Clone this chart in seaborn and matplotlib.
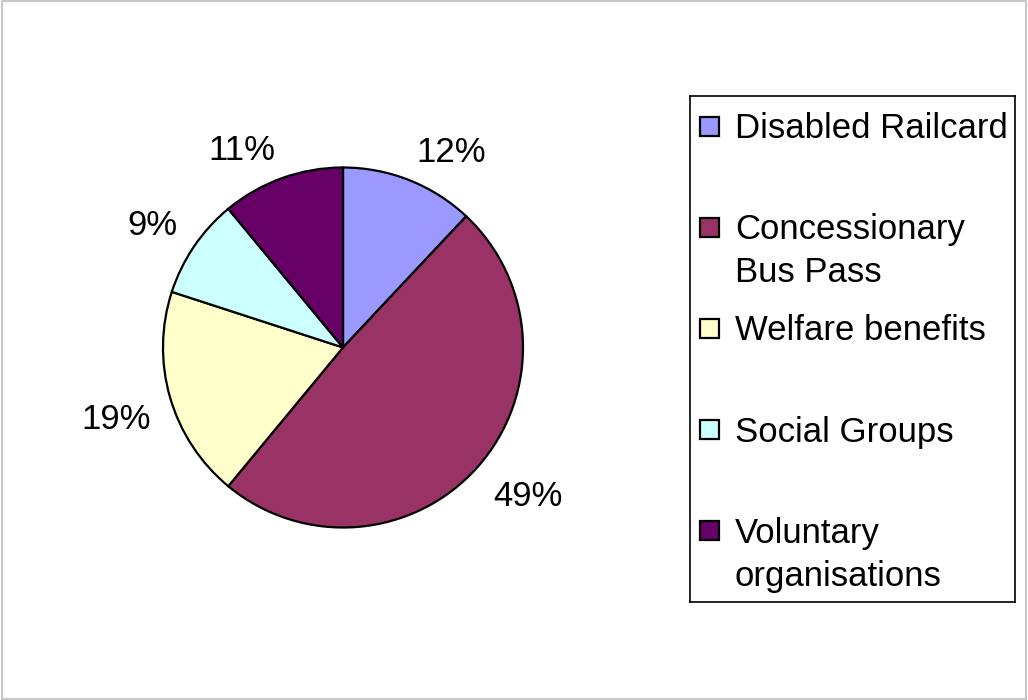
import matplotlib
matplotlib.use("Agg")
import matplotlib.pyplot as plt
import matplotlib.patches as mpatches
import seaborn as sns
import numpy as np

categories = ["Disabled Railcard", "Concessionary\nBus Pass", "Welfare benefits",
              "Social Groups", "Voluntary\norganisations"]
values = [12, 49, 19, 9, 11]
colors = ["#9999FF", "#993366", "#FFFFCC", "#CCFFFF", "#660066"]

sns.set_theme(style="white")
plt.rcParams['font.family'] = ['Liberation Sans', 'DejaVu Sans']

FS = 25
W, H = 1028, 700
fig = plt.figure(figsize=(W / 100, H / 100), dpi=100)
fig.patch.set_facecolor("white")

# pie axes (center ~ (343, 347.5) px, radius 180 px)
cx, cy, r = 343, 347.5, 180
ax = fig.add_axes([(cx - r) / W, (H - cy - r) / H, 2 * r / W, 2 * r / H])
palette = sns.color_palette(colors)
wedges, texts = ax.pie(
    values, colors=palette, startangle=90, counterclock=False,
    wedgeprops=dict(edgecolor="black", linewidth=1.6, clip_on=False))
ax.set_xlim(-1, 1)
ax.set_ylim(-1, 1)
ax.set_aspect("equal")
ax.axis("off")

# Excel-style outside labels: nearest corner of the label box at the anchor
total = float(sum(values))
anchor = 1.11
for w, v in zip(wedges, values):
    mid = np.deg2rad((w.theta1 + w.theta2) / 2)
    x, y = anchor * np.cos(mid), anchor * np.sin(mid)
    ha = "left" if x >= 0 else "right"
    va = "baseline" if y >= 0 else "top"
    ax.text(x, y, f"{v / total * 100:.0f}%", ha=ha, va=va, fontsize=FS,
            color="black", clip_on=False)

# legend box (manual, pixel coordinates)
lx0, ly0, lx1, ly1 = 690, 96, 1015, 602
lax = fig.add_axes([lx0 / W, (H - ly1) / H, (lx1 - lx0) / W, (ly1 - ly0) / H])
lax.set_xlim(0, lx1 - lx0)
lax.set_ylim(ly1 - ly0, 0)
lax.set_xticks([])
lax.set_yticks([])
for s in lax.spines.values():
    s.set_visible(True)
    s.set_color("black")
    s.set_linewidth(1.2)
lax.set_facecolor("white")

first_y = 30
step = 101.2
line_gap = 43
sq = 19
for i, (lab, col) in enumerate(zip(categories, palette)):
    y = first_y + i * step
    lax.add_patch(mpatches.Rectangle((10, y - sq / 2), sq, sq, facecolor=col,
                                     edgecolor="black", linewidth=1.6))
    for j, line in enumerate(lab.split("\n")):
        lax.text(45, y + 12 + j * line_gap, line, fontsize=FS,
                 va="baseline", ha="left", color="black")

# light outer frame
fig.add_artist(mpatches.Rectangle((0.0015, 0.002), 0.997, 0.996, transform=fig.transFigure,
                                  fill=False, edgecolor="#c8c8c8", linewidth=1.5))

fig.savefig("out.png", dpi=100, facecolor="white")
